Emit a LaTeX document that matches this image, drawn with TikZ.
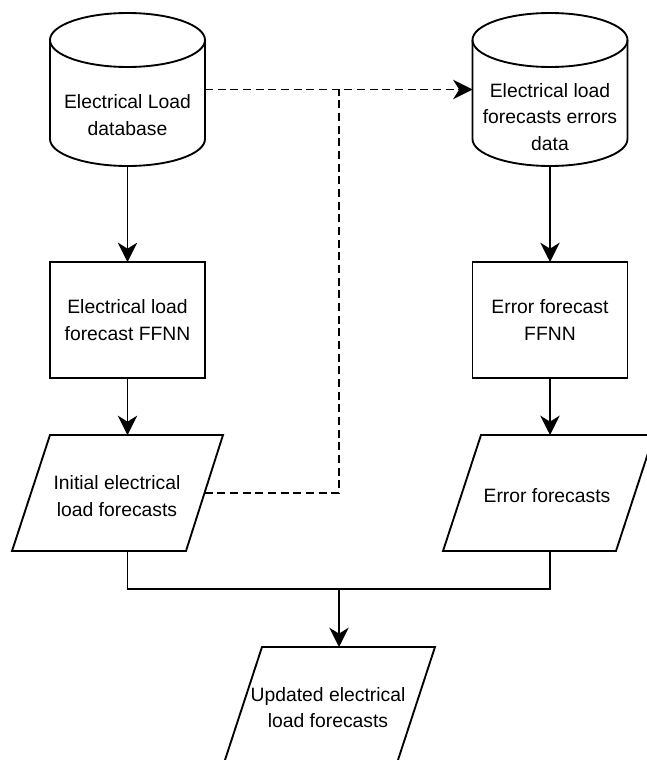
\documentclass[tikz,border=0pt]{standalone}
\usepackage{fontspec}
\setmainfont{Liberation Sans}
\usetikzlibrary{arrows.meta,calc}
\begin{document}
\begin{tikzpicture}[x=0.75pt,y=-0.75pt,
  line/.style={line width=1.4pt, line join=miter},
  arr/.style={line, -{Stealth[length=14.5pt,width=14.5pt,inset=4.5pt]}},
  dsh/.style={line, dash pattern=on 6pt off 3.5pt},
  hold/.style={draw=none, rectangle, inner sep=0pt, outer sep=0pt},
  txt/.style={align=center, font=\fontsize{14.5}{20}\selectfont, inner sep=0pt},
  box/.style={line, draw, rectangle, inner sep=0pt, outer sep=0pt, align=center,
    font=\fontsize{14.5}{20}\selectfont, minimum width=116.25pt, minimum height=87pt},
  cylhold/.style={hold, minimum width=116.25pt, minimum height=114.75pt},
  parhold/.style={hold, minimum width=158.25pt, minimum height=87pt}]
\useasboundingbox (0,0) rectangle (646,760);

% shape holders
\node[cylhold] (cylL) at (127.5,89.5) {};
\node[cylhold] (cylR) at (550,89.5) {};
\node[box] (rectL) at (127.5,320) {Electrical load\\forecast FFNN};
\node[box] (rectR) at (550,320) {Error forecast\\FFNN};
\node[parhold] (parL) at (117.5,493) {};
\node[parhold] (parR) at (548.5,493) {};
\node[parhold] (parB) at (329.5,705) {};

% cylinders
\draw[line] (50,40) -- (50,139) arc[start angle=180, end angle=0, x radius=77.5, y radius=27] -- (205,40);
\draw[line] (127.5,40) ellipse[x radius=77.5, y radius=27];
\draw[line] (472.5,40) -- (472.5,139) arc[start angle=180, end angle=0, x radius=77.5, y radius=27] -- (627.5,40);
\draw[line] (550,40) ellipse[x radius=77.5, y radius=27];

% parallelograms
\draw[line] (50,435) -- (223,435) -- (186,551) -- (12,551) -- cycle;
\draw[line] (481,435) -- (654,435) -- (616,551) -- (443,551) -- cycle;
\draw[line] (262,647) -- (435,647) -- (397,763) -- (224,763) -- cycle;

% texts
\node[txt] (tcylL) at (127.5,115) {Electrical Load\\database};
\node[txt] (tcylR) at (550,117) {Electrical load\\forecasts errors\\data};
\node[txt] (tparL) at (117,496) {Initial electrical\\load forecasts};
\node[txt] (tparR) at (547,496) {Error forecasts};
\node[txt] (tparB) at (328,707.5) {Updated electrical\\load forecasts};

% connectors
\draw[arr] (cylL.south) -- (rectL.north);
\draw[arr] (rectL.south) -- (rectL.south |- parL.north);
\draw[arr] (cylR.south) -- (rectR.north);
\draw[arr] (rectR.south) -- (rectR.south |- parR.north);

\draw[dsh, arr] (cylL.east) -- (cylR.west);
\coordinate (pLr) at (204.5,493);
\coordinate (dj) at (339,89.5);
\draw[dsh] (pLr) -| (dj);

\coordinate (j) at (339,589);
\draw[line] (rectL.south |- parL.south) |- (j) -| (rectR.south |- parR.south);
\draw[arr] (j) -- (j |- parB.north);
\end{tikzpicture}
\end{document}
